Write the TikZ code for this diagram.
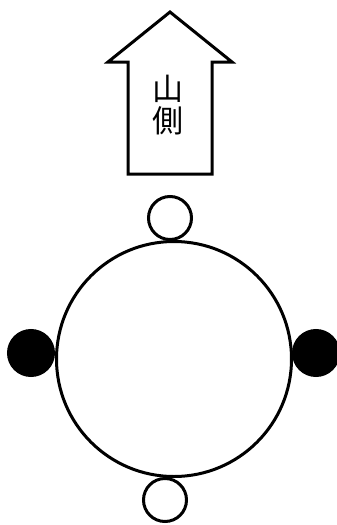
\documentclass[tikz,border=0pt]{standalone}
\usepackage{fontspec}
\newfontfamily\cjk{Noto Sans CJK JP}
\begin{document}
\begin{tikzpicture}[x=1pt, y=-1pt, line width=3pt,
    knob/.style={draw, circle, fill=white, inner sep=0pt, minimum size=43pt},
    post/.style={draw, circle, fill=black, inner sep=0pt, minimum size=45pt}]
    \useasboundingbox (0,0) rectangle (337,525);
    % block arrow
    \draw[line join=miter] (170,12) -- (232,62) -- (212,62) -- (212,174)
        -- (128,174) -- (128,62) -- (108,62) -- cycle;
    \node[font=\cjk\fontsize{31}{32}\selectfont, align=center] (side) at (168,105) {山\\側};
    % table and seats
    \node[draw, circle, inner sep=0pt, minimum size=235pt] (table) at (174,359) {};
    \node[knob] (top) at (170,218) {};
    \node[knob] (bottom) at (165,500) {};
    \node[post] (left) at (31,353) {};
    \node[post] (right) at (316,353) {};
\end{tikzpicture}
\end{document}
